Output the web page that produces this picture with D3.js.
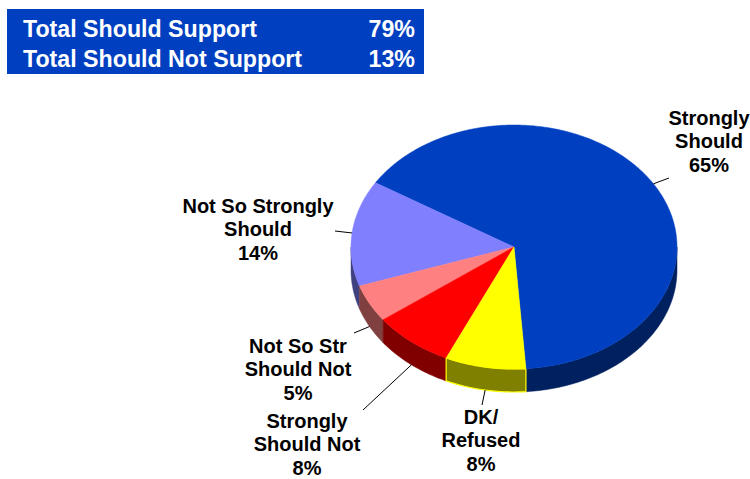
<!DOCTYPE html>
<html>
<head>
<meta charset="utf-8">
<script src="https://cdn.jsdelivr.net/npm/d3@7"></script>
<style>
  html, body { margin: 0; padding: 0; background: #ffffff; }
  svg { display: block; }
  text { font-family: "Liberation Sans", Arial, Helvetica, sans-serif; font-weight: bold; }
</style>
</head>
<body>
<svg id="chart" width="750" height="479"></svg>
<script>
// ---- data ----
const categories = ["Strongly Should", "Not So Strongly Should", "Not So Str Should Not", "Strongly Should Not", "DK/Refused"];
const labelLines = [["Strongly", "Should"], ["Not So Strongly", "Should"], ["Not So Str", "Should Not"], ["Strongly", "Should Not"], ["DK/", "Refused"]];
const values = [65, 14, 5, 8, 8];
const summaryLabels = ["Total Should Support", "Total Should Not Support"];
const summaryValues = [79, 13];

// ---- styles / layout ----
const topColors  = ["#0040C0", "#8080FF", "#FF8080", "#FF0000", "#FFFF00"];
const sideColors = ["#002060", "#404080", "#804040", "#800000", "#808000"];
const sideStroke = [null, null, null, null, "#FFFF00"];
const labelPos   = [[709, 125], [258, 213], [298, 353], [307, 428], [481, 424]];
const leaderEnd  = [[669, 178], [335, 231], [354, 333], [363, 410], [482, 405]];
const lineH = 23.3;

const cx = 514, cy = 247, rx = 163, ry = 122, depth = 23;
const startDeg = 175.8;

const svg = d3.select("#chart");

// ---- summary box ----
svg.append("rect").attr("x", 7).attr("y", 9).attr("width", 417).attr("height", 65).attr("fill", "#0040C0");
summaryLabels.forEach((s, i) => {
  const y = 37 + i * 30;
  svg.append("text").attr("x", 23).attr("y", y).attr("fill", "#fff").attr("font-size", 23.2).text(s);
  svg.append("text").attr("x", 415).attr("y", y).attr("fill", "#fff").attr("font-size", 23.2)
    .attr("text-anchor", "end").text(summaryValues[i] + "%");
});

// ---- pie geometry ----
const a0 = startDeg * Math.PI / 180;
const pie = d3.pie().sort(null).value(d => d).startAngle(a0).endAngle(a0 - 2 * Math.PI);
const arcs = pie(values);

const P = (a, dy = 0) => [cx + rx * Math.sin(a), cy - ry * Math.cos(a) + dy];
function samples(from, to, dy) {
  const n = Math.max(2, Math.ceil(Math.abs(to - from) / (Math.PI / 180)));
  const pts = [];
  for (let i = 0; i <= n; i++) pts.push(P(from + (to - from) * i / n, dy));
  return pts;
}
const line = d3.line();

// side walls (front half only)
const gSide = svg.append("g");
arcs.forEach((d, i) => {
  const lo = Math.min(d.startAngle, d.endAngle), hi = Math.max(d.startAngle, d.endAngle);
  for (let k = -2; k <= 1; k++) {
    const fLo = Math.PI / 2 + k * 2 * Math.PI, fHi = 3 * Math.PI / 2 + k * 2 * Math.PI;
    const s = Math.max(lo, fLo), e = Math.min(hi, fHi);
    if (e > s) {
      const pts = samples(s, e, 0).concat(samples(e, s, depth));
      gSide.append("path").attr("d", line(pts) + "Z")
        .attr("fill", sideColors[i])
        .attr("stroke", sideStroke[i] || sideColors[i])
        .attr("stroke-width", sideStroke[i] ? 1.2 : 0.5)
        .attr("stroke-linejoin", "round");
    }
  }
});

// top faces
const gTop = svg.append("g");
arcs.forEach((d, i) => {
  const pts = [[cx, cy]].concat(samples(d.startAngle, d.endAngle, 0));
  gTop.append("path").attr("d", line(pts) + "Z")
    .attr("fill", topColors[i]).attr("stroke", topColors[i]).attr("stroke-width", 0.5);
});

// leader lines + labels
const gLab = svg.append("g");
arcs.forEach((d, i) => {
  const mid = (d.startAngle + d.endAngle) / 2;
  const front = Math.cos(mid) < 0;
  const p = P(mid, front ? depth : 0);
  gLab.append("line")
    .attr("x1", p[0]).attr("y1", p[1])
    .attr("x2", leaderEnd[i][0]).attr("y2", leaderEnd[i][1])
    .attr("stroke", "#000").attr("stroke-width", 1);
  const t = gLab.append("text").attr("text-anchor", "middle").attr("font-size", 20).attr("fill", "#000");
  const lines = labelLines[i].concat([values[i] + "%"]);
  lines.forEach((ln, j) => {
    t.append("tspan").attr("x", labelPos[i][0]).attr("y", labelPos[i][1] + j * lineH).text(ln);
  });
});
</script>
</body>
</html>
